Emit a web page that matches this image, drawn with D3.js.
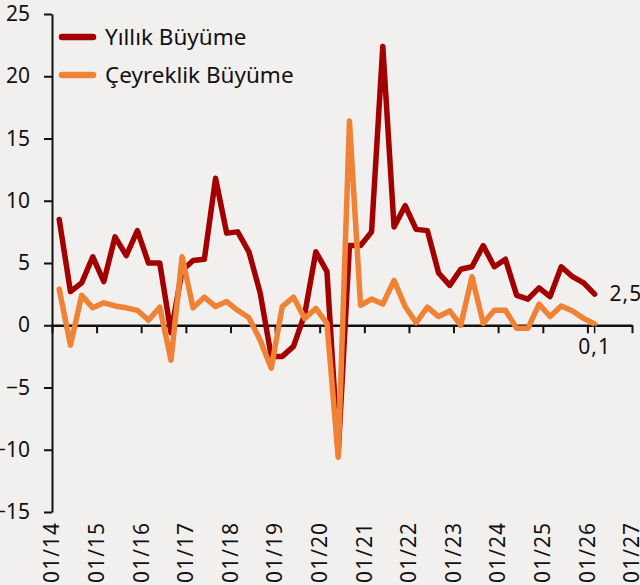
<!DOCTYPE html>
<html>
<head>
<meta charset="utf-8">
<script src="https://cdn.jsdelivr.net/npm/d3@7"></script>
<style>
  body { margin: 0; background: #f2f0ef; }
  svg { display: block; }
  .lbl { font-family: "Noto Sans", sans-serif; font-size: 21px; fill: #111; }
</style>
</head>
<body>
<div id="chart"></div>
<script>
// ceyrek sonu (ay basi) tarihleri
var donemler = [
  '2014-03','2014-06','2014-09','2014-12',
  '2015-03','2015-06','2015-09','2015-12',
  '2016-03','2016-06','2016-09','2016-12',
  '2017-03','2017-06','2017-09','2017-12',
  '2018-03','2018-06','2018-09','2018-12',
  '2019-03','2019-06','2019-09','2019-12',
  '2020-03','2020-06','2020-09','2020-12',
  '2021-03','2021-06','2021-09','2021-12',
  '2022-03','2022-06','2022-09','2022-12',
  '2023-03','2023-06','2023-09','2023-12',
  '2024-03','2024-06','2024-09','2024-12',
  '2025-03','2025-06','2025-09','2025-12',
  '2026-03'
];
var yillik = [
  8.5, 2.7, 3.4, 5.5,
  3.5, 7.1, 5.6, 7.6,
  5.0, 5.0, -0.6, 4.4,
  5.2, 5.3, 11.8, 7.4,
  7.5, 5.9, 2.6, -2.5,
  -2.5, -1.7, 0.9, 5.9,
  4.3, -10.3, 6.4, 6.4,
  7.5, 22.4, 7.9, 9.6,
  7.7, 7.6, 4.2, 3.2,
  4.5, 4.7, 6.4, 4.7,
  5.3, 2.4, 2.1, 3.0,
  2.3, 4.7, 3.9, 3.4,
  2.5
];
var ceyreklik = [
  2.9, -1.6, 2.4, 1.4,
  1.8, 1.55, 1.4, 1.2,
  0.4, 1.45, -2.8, 5.5,
  1.4, 2.25, 1.5, 1.9,
  1.2, 0.6, -1.2, -3.45,
  1.5, 2.25, 0.55, 1.35,
  0.15, -10.6, 16.4, 1.6,
  2.1, 1.7, 3.6, 1.5,
  0.2, 1.45, 0.7, 1.15,
  0.0, 3.9, 0.15, 1.2,
  1.2, -0.25, -0.25, 1.7,
  0.7, 1.55, 1.15, 0.55,
  0.1
];
var yTicks = [-15, -10, -5, 0, 5, 10, 15, 20, 25];
var yilBaslari = ['2014','2015','2016','2017','2018','2019','2020','2021','2022','2023','2024','2025','2026','2027'];
var seriler = [
  {ad: 'Yıllık Büyüme', veri: yillik, renk: '#a30000', son: '2,5'},
  {ad: 'Çeyreklik Büyüme', veri: ceyreklik, renk: '#f08236', son: '0,1'}
];

var width = 640, height = 585;
var parseAy = d3.timeParse('%Y-%m');
var parseYil = d3.timeParse('%Y');
var formatTick = d3.timeFormat('%m/%y');

var svg = d3.select('#chart').append('svg')
    .attr('width', width)
    .attr('height', height);

var x = d3.scaleTime()
    .domain([parseYil('2014'), parseYil('2027')])
    .range([52, 632]);
var y = d3.scaleLinear()
    .domain([-15, 25])
    .range([512, 14]);

// y ekseni
var yAxis = svg.append('g')
    .attr('transform', 'translate(' + x.range()[0] + ',0)')
    .call(d3.axisLeft(y).tickValues(yTicks).tickSize(8).tickSizeOuter(0).tickPadding(14));
yAxis.select('.domain').attr('stroke', '#111').attr('stroke-width', 2);
yAxis.selectAll('.tick line').attr('stroke', '#111').attr('stroke-width', 2);
yAxis.selectAll('.tick text').attr('class', 'lbl').attr('fill', null)
    .style('font-size', '21px');

// x ekseni (0 cizgisinde)
var tickDates = yilBaslari.map(function(d) { return parseYil(d); });
var xAxis = svg.append('g')
    .attr('transform', 'translate(0,' + y(0) + ')')
    .call(d3.axisBottom(x).tickValues(tickDates).tickSize(8).tickSizeOuter(0).tickFormat(''));
xAxis.select('.domain').attr('stroke', '#111').attr('stroke-width', 2.5);
xAxis.selectAll('.tick line').attr('stroke', '#111').attr('stroke-width', 2);

svg.append('g').selectAll('text')
    .data(tickDates)
    .enter().append('text')
    .attr('class', 'lbl')
    .style('letter-spacing', '1px')
    .attr('text-anchor', 'end')
    .attr('dy', '0.35em')
    .attr('transform', function(d) {
      return 'translate(' + x(d) + ',522) rotate(-90)';
    })
    .text(function(d) { return formatTick(d); });

// cizgiler
var line = d3.line()
    .x(function(d, i) { return x(parseAy(donemler[i])); })
    .y(function(d) { return y(d); });

seriler.forEach(function(s) {
  svg.append('path')
      .datum(s.veri)
      .attr('fill', 'none')
      .attr('stroke', s.renk)
      .attr('stroke-width', 5.5)
      .attr('stroke-linejoin', 'round')
      .attr('stroke-linecap', 'round')
      .attr('d', line);
});

// son deger etiketleri
var sonTarih = parseAy(donemler[donemler.length - 1]);
var sonX = x(sonTarih);
svg.append('text')
    .attr('class', 'lbl')
    .style('letter-spacing', '1px')
    .attr('x', sonX + 15)
    .attr('y', y(yillik[yillik.length - 1]))
    .attr('dy', '0.35em')
    .text(seriler[0].son);
svg.append('line')
    .attr('x1', sonX).attr('x2', sonX)
    .attr('y1', y(0)).attr('y2', y(0) + 8)
    .attr('stroke', '#111').attr('stroke-width', 1.5);
svg.append('text')
    .attr('class', 'lbl')
    .style('letter-spacing', '1px')
    .attr('text-anchor', 'middle')
    .attr('x', sonX)
    .attr('y', y(0) + 21)
    .attr('dy', '0.35em')
    .text(seriler[1].son);

// lejant
var legend = svg.append('g').selectAll('g')
    .data(seriler)
    .enter().append('g')
    .attr('transform', function(d, i) { return 'translate(62,' + (37 + i * 38) + ')'; });
legend.append('line')
    .attr('x1', 0).attr('x2', 31)
    .attr('stroke', function(d) { return d.renk; })
    .attr('stroke-width', 6.5)
    .attr('stroke-linecap', 'round');
legend.append('text')
    .attr('class', 'lbl')
    .style('font-size', '22.5px')
    .attr('x', 43)
    .attr('dy', '0.35em')
    .text(function(d) { return d.ad; });
</script>
</body>
</html>
